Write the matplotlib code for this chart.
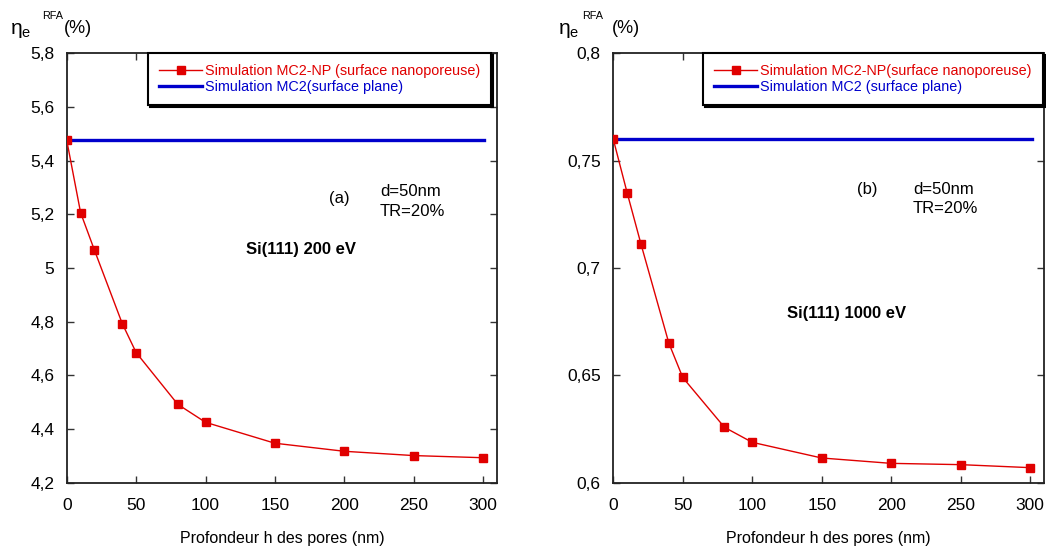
import matplotlib
matplotlib.use("Agg")
import matplotlib.pyplot as plt
from matplotlib.ticker import FuncFormatter

plt.rcParams['font.family'] = ['Liberation Sans', 'DejaVu Sans']

# Data
depth = [0, 10, 20, 40, 50, 80, 100, 150, 200, 250, 300]
eta_200 = [5.476, 5.206, 5.066, 4.793, 4.685, 4.492, 4.425, 4.347, 4.317, 4.301, 4.293]
eta_200_plane = 5.476
eta_1000 = [0.760, 0.735, 0.711, 0.665, 0.649, 0.6258, 0.6188, 0.6115, 0.6090, 0.6084, 0.6070]
eta_1000_plane = 0.760
plane_x = [0, 301]
x_ticks = [0, 50, 100, 150, 200, 250, 300]

red = '#e00000'
blue = '#0000cc'

fig = plt.figure(figsize=(10.46, 5.49), dpi=100)
ax1 = fig.add_axes([0.0638, 0.1208, 0.4113, 0.7821])
ax2 = fig.add_axes([0.5863, 0.1208, 0.4118, 0.7821])

def comma_fmt(v, pos):
    s = ('%g' % round(v, 4))
    return s.replace('.', ',')

panels = [
    (ax1, eta_200, eta_200_plane, (4.2, 5.8), [4.2 + 0.2 * i for i in range(9)],
     'Simulation MC2-NP (surface nanoporeuse)', 'Simulation MC2(surface plane)', 0.987,
     '(a)', (0.633, 0.661), (0.728, 0.655), 'Si(111) 200 eV', (0.545, 0.542)),
    (ax2, eta_1000, eta_1000_plane, (0.6, 0.8), [0.6, 0.65, 0.7, 0.75, 0.8],
     'Simulation MC2-NP(surface nanoporeuse)', 'Simulation MC2 (surface plane)', 0.997,
     '(b)', (0.589, 0.682), (0.696, 0.66), 'Si(111) 1000 eV', (0.542, 0.395)),
]

for ax, ys, plane, ylim, yt, lab1, lab2, legx, tag, tagpos, dpos, title, titlepos in panels:
    ax.plot(depth, ys, color=red, lw=1.0, marker='s', ms=5.8, mec=red, mfc=red, label=lab1, zorder=3)
    ax.plot(plane_x, [plane, plane], color=blue, lw=2.4, label=lab2, zorder=2)
    ax.set_xlim(0, 310)
    ax.set_ylim(*ylim)
    ax.set_xticks(x_ticks)
    ax.set_yticks(yt)
    ax.yaxis.set_major_formatter(FuncFormatter(comma_fmt))
    ax.tick_params(direction='in', length=5, width=1, top=True, right=True, labelsize=12.5, color='#333333')
    ax.tick_params(axis='y', pad=9)
    ax.tick_params(axis='x', pad=11)
    for sp in ax.spines.values():
        sp.set_linewidth(1.3)
        sp.set_color('#222222')
    ax.set_xlabel('Profondeur h des pores (nm)', fontsize=11.5, labelpad=13)
    leg = ax.legend(loc='upper right', bbox_to_anchor=(legx, 1.0), borderaxespad=0.0,
                    fontsize=10.4, handlelength=3.0, labelcolor='linecolor', fancybox=False,
                    framealpha=1, edgecolor='black', borderpad=0.75, labelspacing=0.15,
                    handletextpad=0.2,
                    shadow={'color': 'black', 'alpha': 1, 'ox': 1.3, 'oy': -1.3})
    leg.get_frame().set_linewidth(1.5)
    ax.text(tagpos[0], tagpos[1], tag, transform=ax.transAxes, fontsize=12, ha='center', va='center')
    ax.text(dpos[0], dpos[1], 'd=50nm\nTR=20%', transform=ax.transAxes,
            fontsize=12, ha='left', va='center', linespacing=1.35)
    ax.text(titlepos[0], titlepos[1], title, transform=ax.transAxes, fontsize=12,
            fontweight='bold', ha='center', va='center')

# y-axis labels at top-left
for xeta, xrfa, xpct in ((0.010, 0.040, 0.061), (0.533, 0.557, 0.585)):
    fig.text(xeta, 0.945, r'$\mathregular{\eta_e}$', fontsize=15, ha='left', va='center')
    fig.text(xrfa, 0.970, 'RFA', fontsize=7.8, ha='left', va='center')
    fig.text(xpct, 0.948, '(%)', fontsize=13, ha='left', va='center')

fig.savefig('out.png', dpi=100)
